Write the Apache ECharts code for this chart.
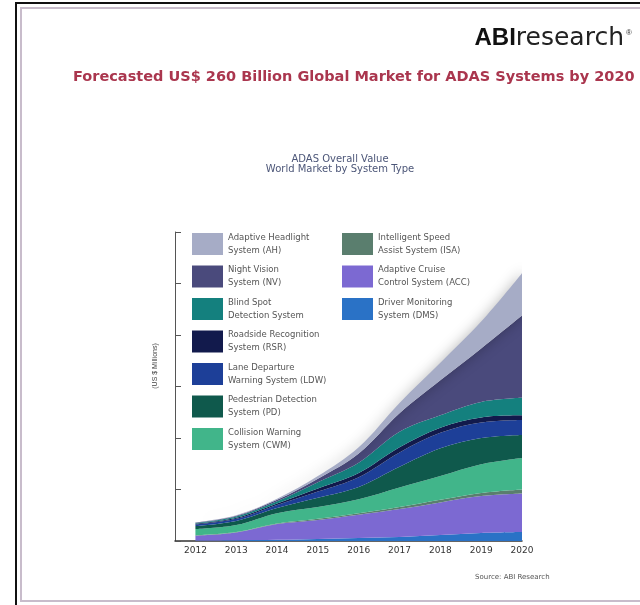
<!DOCTYPE html>
<html><head><meta charset="utf-8">
<script src="https://cdn.jsdelivr.net/npm/echarts@6/dist/echarts.min.js"></script>
<style>html,body{margin:0;padding:0;background:#fff}#c{width:640px;height:605px}</style>
</head><body><div id="c"></div>
<script>
// Values in US$ billions (axis unit 50 per tick, no tick labels shown)
const years = [2012, 2013, 2014, 2015, 2016, 2017, 2018, 2019, 2020];
const dms = [0.5, 0.8, 1.2, 2, 3, 4, 5.8, 7.8, 8.7];
const acc = [4.7, 7.5, 15.2, 18.5, 22.5, 27, 31.7, 35.8, 37.3];
const isa = [0.3, 0.4, 0.6, 1, 1.5, 2, 2.5, 3, 4];
const cwm = [6.1, 6.8, 10, 11.5, 13.5, 19, 23, 27.9, 30.6];
const pd = [2.9, 4, 5, 9, 12, 20, 27, 25.5, 22.4];
const ldw = [1.5, 2, 3, 6, 9.5, 14, 15, 15, 14.5];
const rsr = [0.7, 1, 1.5, 3, 4, 5, 5, 5, 4.5];
const bsd = [0.6, 1.2, 2, 6, 10, 15, 12, 15, 17];
const nv = [0.5, 0.8, 1.5, 3.5, 9, 18, 34, 52, 80];
const ah = [0.2, 0.5, 1, 2.5, 6, 10, 17, 26, 41];

const seriesKeys = ['DMS', 'ACC', 'ISA', 'CWM', 'PD', 'LDW', 'RSR', 'BSD', 'NV', 'AH'];
const seriesValues = [dms, acc, isa, cwm, pd, ldw, rsr, bsd, nv, ah];
const seriesLabels = {
  AH: 'Adaptive Headlight\nSystem (AH)',
  NV: 'Night Vision\nSystem (NV)',
  BSD: 'Blind Spot\nDetection System',
  RSR: 'Roadside Recognition\nSystem (RSR)',
  LDW: 'Lane Departure\nWarning System (LDW)',
  PD: 'Pedestrian Detection\nSystem (PD)',
  CWM: 'Collision Warning\nSystem (CWM)',
  ISA: 'Intelligent Speed\nAssist System (ISA)',
  ACC: 'Adaptive Cruise\nControl System (ACC)',
  DMS: 'Driver Monitoring\nSystem (DMS)'
};
const legendCol1 = ['AH', 'NV', 'BSD', 'RSR', 'LDW', 'PD', 'CWM'];
const legendCol2 = ['ISA', 'ACC', 'DMS'];
const colors = {
  AH: '#a6acc6', NV: '#4a4a7c', BSD: '#14807e', RSR: '#121a4c', LDW: '#1d3f98',
  PD: '#0f594c', CWM: '#41b58a', ISA: '#5a7e6e', ACC: '#7c69d2', DMS: '#2a72c6'
};

const chart = echarts.init(document.getElementById('c'), null, {renderer: 'canvas'});

// data items are [value, year]; encode maps dim 1 -> x, dim 0 -> y so stacking is applied on the value
const series = seriesKeys.map((k, i) => ({
  name: k,
  type: 'line',
  stack: 'total',
  smooth: 0.35,
  showSymbol: false,
  symbol: 'none',
  encode: {x: 1, y: 0},
  lineStyle: {width: 0},
  itemStyle: {color: colors[k]},
  areaStyle: k === 'AH'
    ? {color: colors[k], opacity: 1, shadowBlur: 14, shadowColor: 'rgba(0,0,0,0.28)', shadowOffsetX: 2, shadowOffsetY: -2}
    : {color: colors[k], opacity: 1},
  data: years.map((y, j) => [seriesValues[i][j], y])
}));

const legendBase = {
  orient: 'vertical',
  icon: 'rect',
  itemWidth: 31,
  itemHeight: 22,
  itemGap: 6.5,
  selectedMode: false,
  padding: 0,
  formatter: n => seriesLabels[n],
  textStyle: {fontSize: 8.5, lineHeight: 13, color: '#555', fontFamily: 'DejaVu Sans'}
};

chart.setOption({
  animation: false,
  backgroundColor: '#fff',
  title: [{
    text: 'Forecasted US$ 260 Billion Global Market for ADAS Systems by 2020',
    left: 68, top: 65,
    textStyle: {fontSize: 14.5, fontWeight: 'bold', color: '#aa364e', fontFamily: 'DejaVu Sans'}
  }],
  legend: [
    Object.assign({}, legendBase, {data: legendCol1, left: 192, top: 231}),
    Object.assign({}, legendBase, {data: legendCol2, left: 342, top: 231})
  ],
  grid: {left: 175, right: 118, top: 232, bottom: 64},
  xAxis: {
    type: 'value',
    min: 2011.5, max: 2020, interval: 0.5,
    axisLine: {show: true, lineStyle: {color: '#333', width: 1.5}},
    axisTick: {show: false},
    splitLine: {show: false},
    axisLabel: {
      formatter: v => (Number.isInteger(v) ? String(v) : ''),
      fontSize: 9, color: '#333', margin: 5, fontFamily: 'DejaVu Sans',
      showMinLabel: false
    }
  },
  yAxis: {
    type: 'value',
    min: 0, max: 300, interval: 50,
    axisLine: {show: true, lineStyle: {color: '#555', width: 1}},
    axisTick: {show: true, inside: true, length: 6, lineStyle: {color: '#555'}},
    axisLabel: {show: false},
    splitLine: {show: false}
  },
  graphic: [
    {type: 'rect', silent: true, shape: {x: 16, y: 3, width: 640, height: 640}, style: {fill: 'none', stroke: '#111', lineWidth: 2}},
    {type: 'rect', silent: true, shape: {x: 21, y: 8, width: 630, height: 593}, style: {fill: 'none', stroke: '#c8bccb', lineWidth: 2}},
    {type: 'text', silent: true, x: 624, y: 51, style: {
      text: '{a|ABI}{b|research}', align: 'right', verticalAlign: 'bottom',
      rich: {
        a: {fontSize: 24, fontWeight: 'bold', fontFamily: 'Liberation Sans', fill: '#111'},
        b: {fontSize: 25, fontFamily: 'DejaVu Sans', fill: '#222'}
      }
    }},
    {type: 'text', silent: true, x: 626, y: 29, style: {text: '®', fontSize: 8, fill: '#333', fontFamily: 'Liberation Sans'}},
    {type: 'text', silent: true, x: 340, y: 154, style: {
      text: 'ADAS Overall Value\nWorld Market by System Type', align: 'center', verticalAlign: 'top',
      fontSize: 10, lineHeight: 10, fill: '#4c5678', fontFamily: 'DejaVu Sans'
    }},
    {type: 'text', silent: true, x: 155, y: 366, rotation: Math.PI / 2, style: {
      text: '(US $ Millions)', align: 'center', verticalAlign: 'middle',
      fontSize: 7, fill: '#444', fontFamily: 'Liberation Sans'
    }},
    {type: 'text', silent: true, x: 475, y: 577, style: {
      text: 'Source: ABI Research', align: 'left', verticalAlign: 'middle',
      fontSize: 7, fill: '#555', fontFamily: 'DejaVu Sans'
    }}
  ],
  series: series
});
</script></body></html>
